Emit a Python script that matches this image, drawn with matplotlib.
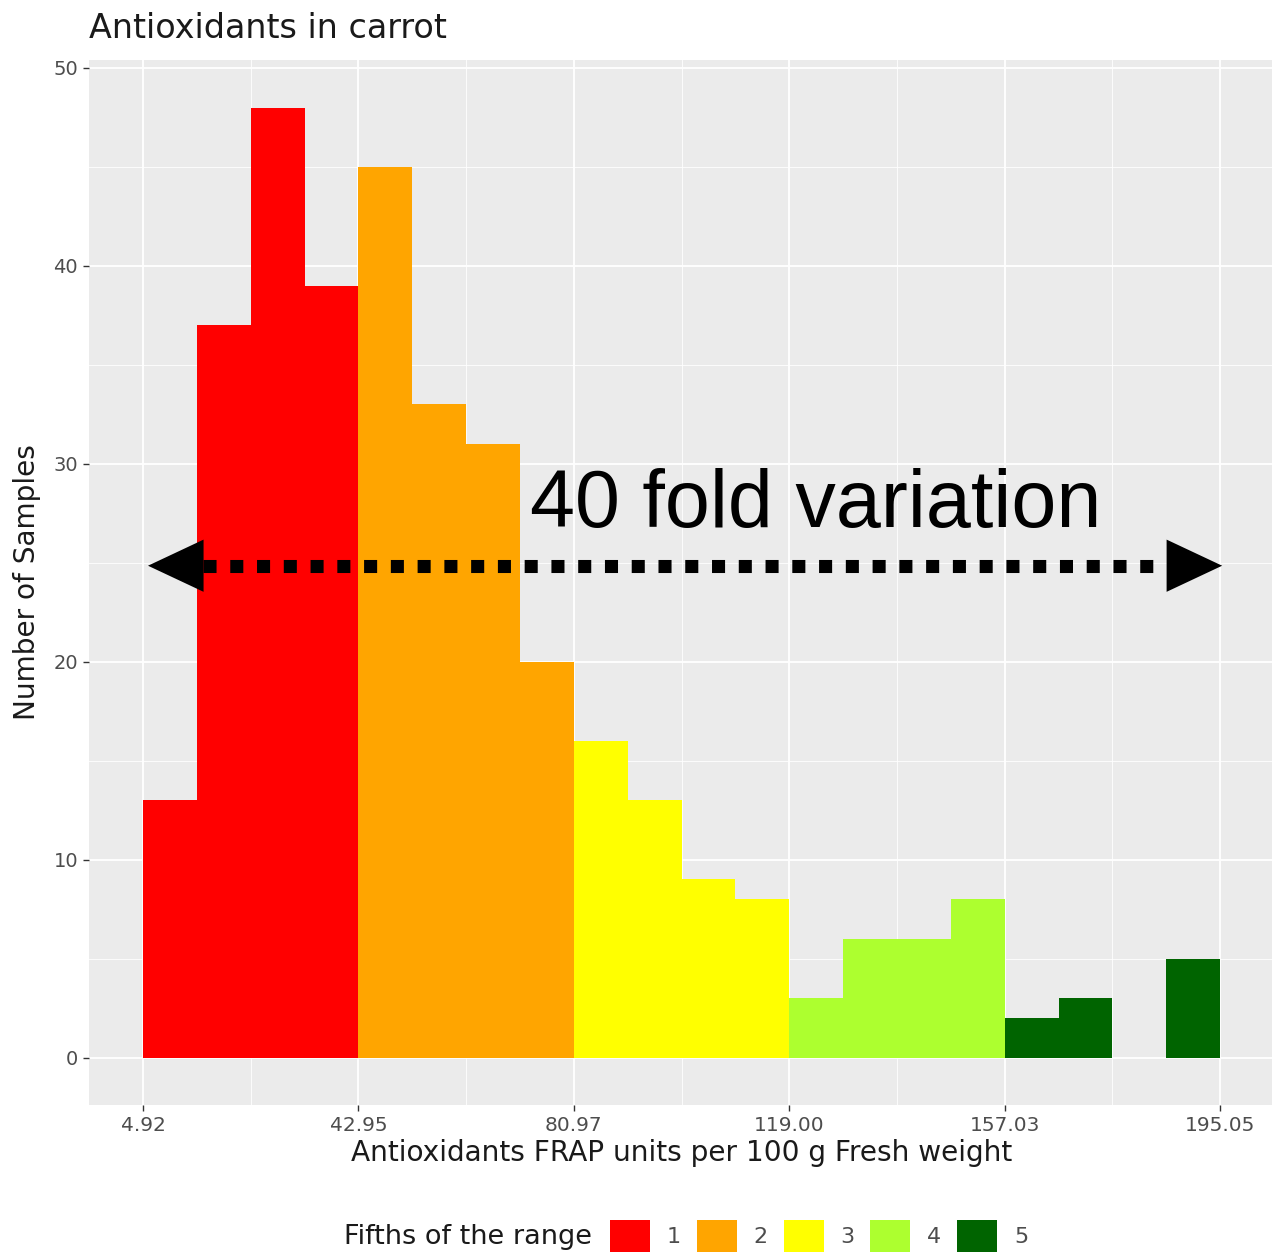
import numpy as np
import matplotlib
matplotlib.use("Agg")
import matplotlib.pyplot as plt
from matplotlib.patches import Patch

# Histogram of antioxidant content (FRAP units per 100 g fresh weight)
range_min, range_max = 4.92, 195.05
counts = [13, 37, 48, 39, 45, 33, 31, 20, 16, 13, 9, 8, 3, 6, 6, 8, 2, 3, 0, 5]
fifth_labels = ["1", "2", "3", "4", "5"]
fifth_colors = ["#FF0000", "#FFA500", "#FFFF00", "#ADFF2F", "#006400"]
tick_labels = ["4.92", "42.95", "80.97", "119.00", "157.03", "195.05"]
y_ticks = [0, 10, 20, 30, 40, 50]
annotation_text = "40 fold variation"
arrow_y = 24.85
arrow_x = (5.8, 195.4)
head_len = 9.7
text_pos = (73.2, 26.8)

n_bins = len(counts)
edges = np.linspace(range_min, range_max, n_bins + 1)
width = edges[1] - edges[0]
bins_per_fifth = n_bins // len(fifth_colors)
bar_colors = [fifth_colors[i // bins_per_fifth] for i in range(n_bins)]

fig = plt.figure(figsize=(12.72, 12.59), dpi=100)
ax = fig.add_axes([0.0701, 0.1223, 0.9315, 0.8300])
ax.set_facecolor("#EBEBEB")

ax.bar(edges[:-1], counts, width=width, align="edge", color=bar_colors,
       linewidth=0, zorder=3)

span = range_max - range_min
ax.set_xlim(range_min - 0.05 * span, range_max + 0.05 * span)
ymax = max(counts)
ax.set_ylim(-0.05 * ymax, 1.05 * ymax)

xticks = np.linspace(range_min, range_max, len(tick_labels))
ax.set_xticks(xticks)
ax.set_xticklabels(tick_labels)
ax.set_xticks((xticks[:-1] + xticks[1:]) / 2, minor=True)
ax.set_yticks(y_ticks)
ax.set_yticks(np.array(y_ticks[:-1]) + 5, minor=True)

ax.grid(which="major", color="white", linewidth=1.3, zorder=0)
ax.grid(which="minor", color="white", linewidth=0.6, zorder=0)
ax.set_axisbelow(True)
for s in ax.spines.values():
    s.set_visible(False)

ax.tick_params(which="major", length=4, width=1, color="#333333",
               labelcolor="#4D4D4D", labelsize=14, pad=4)
ax.tick_params(axis="x", which="major", labelsize=14.5)
ax.tick_params(which="minor", length=0)

ax.set_xlabel("Antioxidants FRAP units per 100 g Fresh weight",
              fontsize=20.2, color="#1A1A1A", labelpad=3)
ax.set_ylabel("Number of Samples", fontsize=20.2, color="#1A1A1A", labelpad=9)
ax.set_title("Antioxidants in carrot", loc="left", fontsize=24,
             color="#1A1A1A", pad=16)

# Double-headed dotted arrow spanning the range
ax.plot([arrow_x[0] + head_len, arrow_x[1] - head_len], [arrow_y, arrow_y],
        color="black", lw=9.4, dashes=(1, 1.05), dash_capstyle="butt", zorder=5)
for tip, tail in [(arrow_x[0], arrow_x[0] + 8), (arrow_x[1], arrow_x[1] - 8)]:
    ax.annotate("", xy=(tip, arrow_y), xytext=(tail, arrow_y),
                arrowprops=dict(arrowstyle="-|>,head_length=1.0,head_width=0.47",
                                mutation_scale=40, color="black", lw=0,
                                shrinkA=0, shrinkB=0), zorder=6)

ax.text(text_pos[0], text_pos[1], annotation_text, fontsize=58.2,
        family="Liberation Sans", color="black", ha="left", va="baseline",
        zorder=7)

# Legend along the bottom
fig.text(592 / 1272, 1 - 1237 / 1259, "Fifths of the range", fontsize=19.5,
         color="#1A1A1A", ha="right", va="center")
handles = [Patch(facecolor=c, edgecolor="none") for c in fifth_colors]
fig.legend(handles, fifth_labels, loc="center left",
           bbox_to_anchor=(610 / 1272, 1 - 1236 / 1259), ncol=5,
           frameon=False, fontsize=16, handlelength=1.8, handleheight=1.8,
           handletextpad=0.75, columnspacing=0.72, borderpad=0,
           borderaxespad=0, labelcolor="#4D4D4D")

fig.savefig("out.png", dpi=100)
